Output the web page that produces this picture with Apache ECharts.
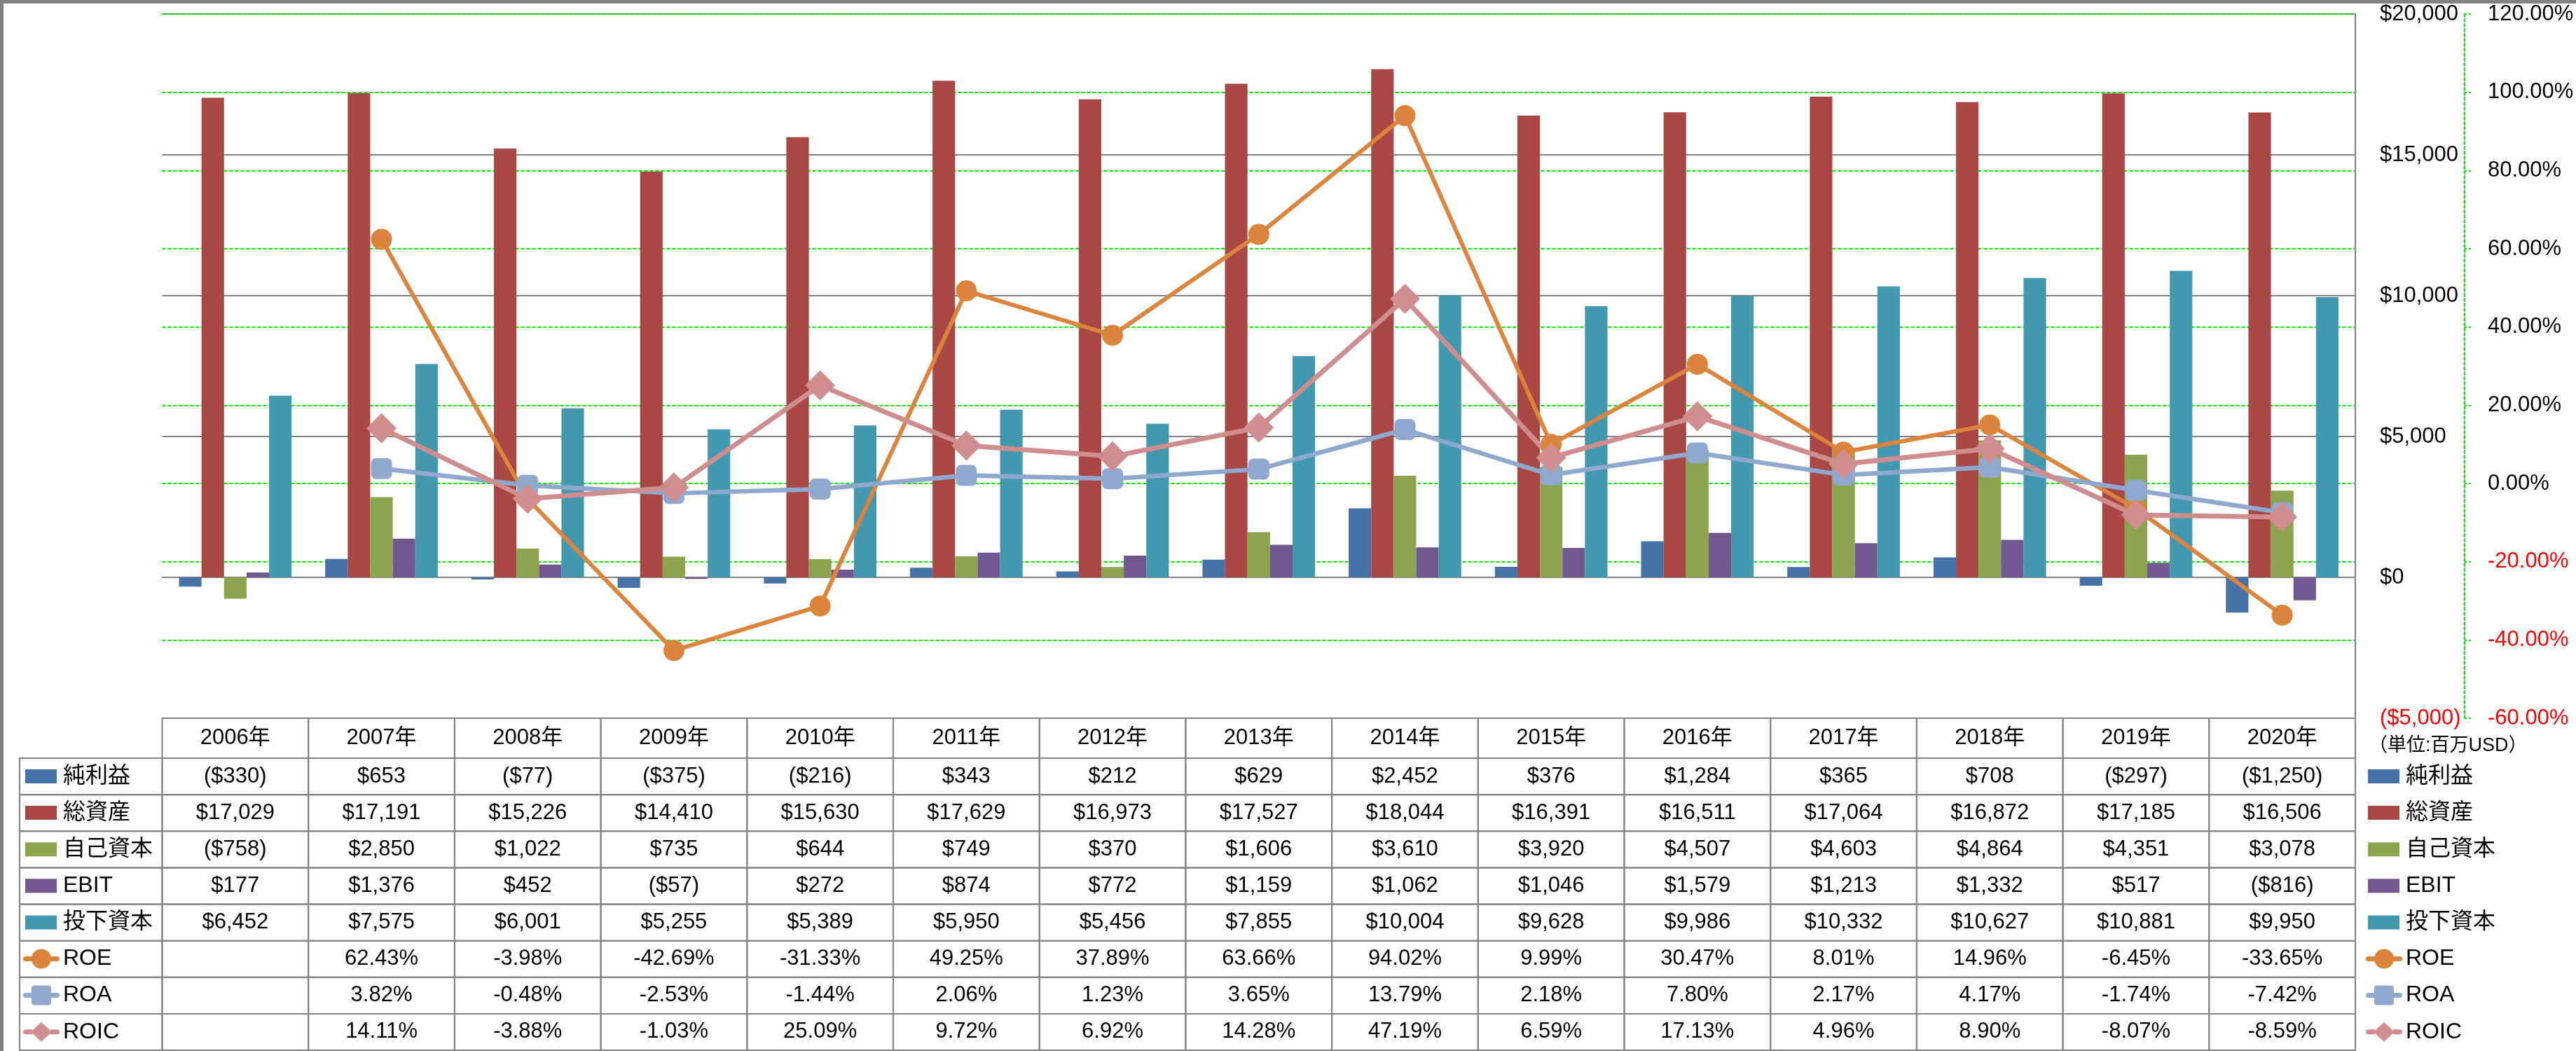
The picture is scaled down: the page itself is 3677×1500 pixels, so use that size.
<!DOCTYPE html>
<html><head><meta charset="utf-8">
<script src="https://cdn.jsdelivr.net/npm/echarts@6/dist/echarts.min.js"></script>
<style>html,body{margin:0;padding:0;background:#fff}#c{width:3677px;height:1500px}</style>
</head><body><div id="c"></div>
<script>
// ---- data ----
const years = ['2006年','2007年','2008年','2009年','2010年','2011年','2012年','2013年','2014年','2015年','2016年','2017年','2018年','2019年','2020年'];
const seriesNames = ['純利益','総資産','自己資本','EBIT','投下資本','ROE','ROA','ROIC'];
const netIncome = [-330, 653, -77, -375, -216, 343, 212, 629, 2452, 376, 1284, 365, 708, -297, -1250];
const totalAssets = [17029, 17191, 15226, 14410, 15630, 17629, 16973, 17527, 18044, 16391, 16511, 17064, 16872, 17185, 16506];
const equity = [-758, 2850, 1022, 735, 644, 749, 370, 1606, 3610, 3920, 4507, 4603, 4864, 4351, 3078];
const ebit = [177, 1376, 452, -57, 272, 874, 772, 1159, 1062, 1046, 1579, 1213, 1332, 517, -816];
const investedCapital = [6452, 7575, 6001, 5255, 5389, 5950, 5456, 7855, 10004, 9628, 9986, 10332, 10627, 10881, 9950];
const roe = [null, 62.43, -3.98, -42.69, -31.33, 49.25, 37.89, 63.66, 94.02, 9.99, 30.47, 8.01, 14.96, -6.45, -33.65];
const roa = [null, 3.82, -0.48, -2.53, -1.44, 2.06, 1.23, 3.65, 13.79, 2.18, 7.80, 2.17, 4.17, -1.74, -7.42];
const roic = [null, 14.11, -3.88, -1.03, 25.09, 9.72, 6.92, 14.28, 47.19, 6.59, 17.13, 4.96, 8.90, -8.07, -8.59];
const usdTicks = { min: -5000, max: 20000, step: 5000 };
const pctTicks = { min: -60, max: 120, step: 20 };
const unitNote = '（単位:百万USD）';

// ---- styles ----
const colors = ['#4572A7','#A94744','#8AA54E','#71588F','#4298AF','#DC843B','#8FA8CE','#CF8E8D'];
const FONT = "'Liberation Sans','Noto Sans CJK JP',sans-serif";
const GRAY = '#828282';
const GREEN = '#00ee00';

const barData = [netIncome, totalAssets, equity, ebit, investedCapital];
const lineData = [roe, roa, roic];
const tableRows = [netIncome, totalAssets, equity, ebit, investedCapital, roe, roa, roic];

const fmtNum = v => Math.abs(v).toLocaleString('en-US');
const fmtMoney = v => v == null ? '' : (v < 0 ? '($' + fmtNum(v) + ')' : '$' + fmtNum(v));
const fmtPct = v => v == null ? '' : v.toFixed(2) + '%';
const cellText = (r, c) => r < 5 ? fmtMoney(tableRows[r][c]) : fmtPct(tableRows[r][c]);

const cells = [];
for (let r = 0; r < tableRows.length; r++) for (let c = 0; c < years.length; c++) cells.push([c, r]);

const HEADER_H = 57;
const LABEL_W = 203.5;

const icons = {
  bar: 'path://M0,0L0.01,0L0,0.01Z M3,4H48V24H3Z M52,28L51.99,28L52,27.99Z',
  circle: 'path://M3.5,10.5H13V17.5H3.5A3.5,3.5 0 0 1 3.5,10.5Z M12,14A14,14 0 1 1 40,14A14,14 0 1 1 12,14Z M39,10.5H48.5A3.5,3.5 0 0 1 48.5,17.5H39Z',
  square: 'path://M3.5,10.5H13V17.5H3.5A3.5,3.5 0 0 1 3.5,10.5Z M16,0H36A4,4 0 0 1 40,4V24A4,4 0 0 1 36,28H16A4,4 0 0 1 12,24V4A4,4 0 0 1 16,0Z M39,10.5H48.5A3.5,3.5 0 0 1 48.5,17.5H39Z',
  diamond: 'path://M3.5,10.5H13V17.5H3.5A3.5,3.5 0 0 1 3.5,10.5Z M26,0L41,14L26,28L11,14Z M39,10.5H48.5A3.5,3.5 0 0 1 48.5,17.5H39Z'
};
const legendIcon = ['bar','bar','bar','bar','bar','circle','square','diamond'];
const legendData = seriesNames.map((n, i) => ({ name: n, icon: icons[legendIcon[i]] }));

function makeLegend(left) {
  return {
    orient: 'vertical', left: left, top: 1092, height: 405, padding: 0,
    itemWidth: 52, itemHeight: 28, itemGap: 20.1, selectedMode: false,
    symbolKeepAspect: false,
    textStyle: { fontSize: 32, fontFamily: FONT, color: '#000' },
    data: legendData
  };
}

const chart = echarts.init(document.getElementById('c'), null, { renderer: 'canvas' });

const series = [];
barData.forEach((d, i) => series.push({
  type: 'bar', name: seriesNames[i], xAxisIndex: 0, yAxisIndex: 0, data: d,
  barGap: '0%', barCategoryGap: '23%', itemStyle: { color: colors[i] }
}));
const lineSym = [['circle', 30, 6], ['roundRect', 30, 6.5], ['diamond', 43, 7]];
lineData.forEach((d, j) => series.push({
  type: 'line', name: seriesNames[5 + j], xAxisIndex: 0, yAxisIndex: 1, data: d,
  symbol: lineSym[j][0], symbolSize: lineSym[j][1], showAllSymbol: true,
  lineStyle: { width: lineSym[j][2], color: colors[5 + j] },
  itemStyle: { color: colors[5 + j], borderWidth: 0 }, z: 3
}));
series.push({
  type: 'custom', name: 'table', xAxisIndex: 1, yAxisIndex: 2, data: cells,
  encode: { x: 0, y: 1 }, silent: true, clip: false, z: 1,
  renderItem: function (params, api) {
    const c = api.value(0), r = api.value(1);
    const p = api.coord([c, r]);
    const s = api.size([1, 1]);
    const x = p[0] - s[0] / 2, y = p[1] - s[1] / 2;
    const txt = (t, cx, cy, size) => ({ type: 'text', x: cx, y: cy,
      style: { text: t, fill: '#000', fontSize: size, fontFamily: FONT, align: 'center', verticalAlign: 'middle' } });
    const box = (bx, by, bw, bh) => ({ type: 'rect', shape: { x: bx, y: by, width: bw, height: bh },
      style: { fill: 'none', stroke: GRAY, lineWidth: 2 } });
    const children = [box(x, y, s[0], s[1]), txt(cellText(r, c), p[0], p[1], 31)];
    if (r === 0) {
      children.push(box(x, y - HEADER_H, s[0], HEADER_H));
      children.push(txt(years[c], p[0], y - HEADER_H / 2, 31));
    }
    if (c === 0) children.push(box(x - LABEL_W, y, LABEL_W, s[1]));
    return { type: 'group', children: children };
  }
});

const usdFmt = v => v < 0 ? '{n|($' + fmtNum(v) + ')}' : '{p|$' + fmtNum(v) + '}';
const pctFmt = v => v < 0 ? '{n|' + v.toFixed(2) + '%}' : '{p|' + v.toFixed(2) + '%}';
const rich = {
  n: { color: '#ff0000', fontSize: 31, fontFamily: FONT },
  p: { color: '#000000', fontSize: 31, fontFamily: FONT }
};

chart.setOption({
  animation: false,
  backgroundColor: '#ffffff',
  legend: [makeLegend(33), makeLegend(3377)],
  grid: [
    { left: 231.5, right: 315, top: 20, bottom: 475, containLabel: false, outerBoundsMode: 'none' },
    { left: 231.5, right: 315, top: 1082, bottom: 1, containLabel: false, outerBoundsMode: 'none' }
  ],
  xAxis: [
    { gridIndex: 0, type: 'category', data: years, boundaryGap: true,
      axisLine: { show: true, onZero: true, onZeroAxisIndex: 0, lineStyle: { color: GRAY, width: 2 } },
      axisTick: { show: false }, axisLabel: { show: false }, splitLine: { show: false } },
    { gridIndex: 1, type: 'category', data: years, show: false }
  ],
  yAxis: [
    { gridIndex: 0, type: 'value', position: 'right', min: usdTicks.min, max: usdTicks.max, interval: usdTicks.step,
      axisLine: { show: true, lineStyle: { color: GRAY, width: 2 } }, axisTick: { show: false },
      splitLine: { show: true, lineStyle: { color: GRAY, width: 2 } },
      axisLabel: { margin: 35, formatter: usdFmt, rich: rich } },
    { gridIndex: 0, type: 'value', position: 'right', offset: 156, min: pctTicks.min, max: pctTicks.max, interval: pctTicks.step,
      axisLine: { show: true, lineStyle: { color: GREEN, width: 2, type: [4, 3] } },
      axisTick: { show: true, inside: false, length: 11, lineStyle: { color: GREEN, width: 2, type: [3, 3] } },
      splitLine: { show: true, lineStyle: { color: GREEN, width: 2, type: [5, 3] } },
      axisLabel: { margin: 33, formatter: pctFmt, rich: rich } },
    { gridIndex: 1, type: 'category', data: seriesNames, inverse: true, show: false }
  ],
  graphic: [
    { type: 'text', x: 3381, y: 1065, silent: true,
      style: { text: unitNote, fontSize: 27, fontFamily: FONT, fill: '#000', align: 'left', verticalAlign: 'middle' } },
    { type: 'rect', left: 0, top: 0, silent: true, z: 100,
      shape: { x: 0, y: 0, width: 3677, height: 1500 },
      style: { fill: 'none', stroke: GRAY, lineWidth: 5 } }
  ],
  series: series
});
</script></body></html>
